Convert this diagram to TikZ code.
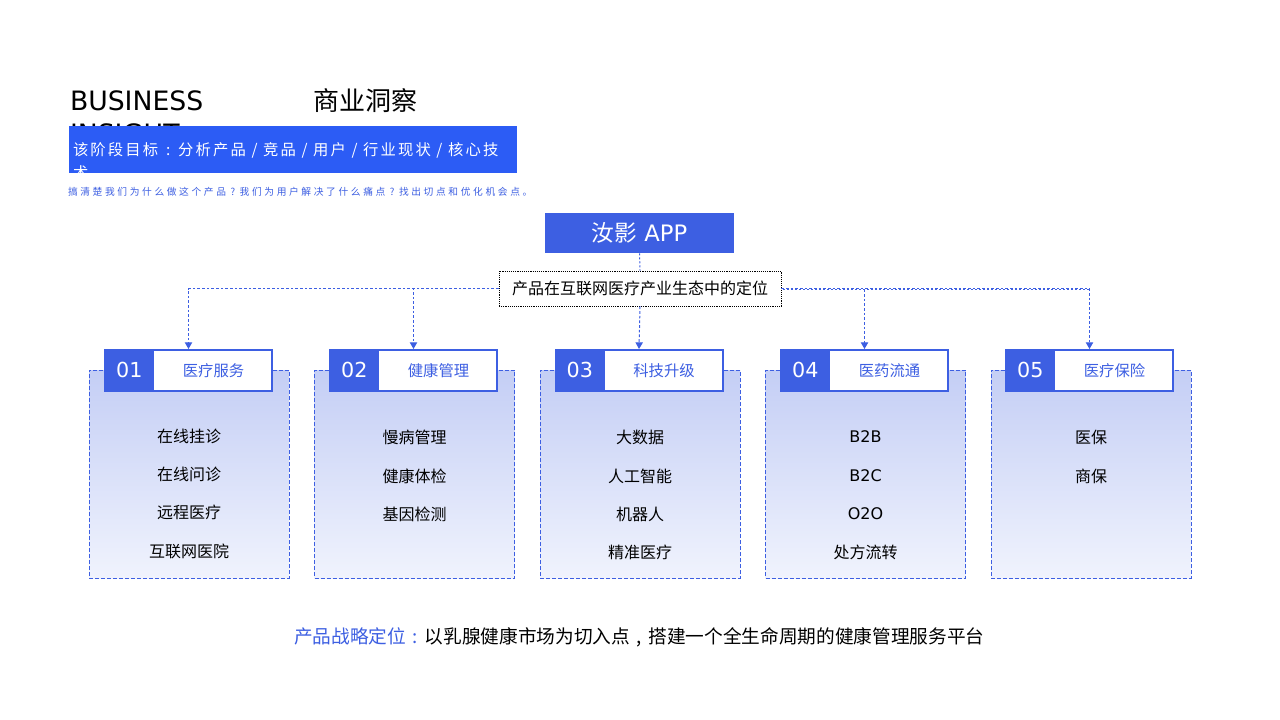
\documentclass[tikz,border=0pt]{standalone}
\usepackage{fontspec}
\setmainfont{DejaVu Sans}
\newfontfamily\cjk{Noto Sans CJK SC}
\newfontfamily\cjkbar{Noto Sans CJK SC}[LetterSpace=14]
\newfontfamily\cjksub{Noto Sans CJK SC}[LetterSpace=27]
% full-width cell with the mark centred in it
\newcommand\cmark[2][1em]{\makebox[#1][c]{#2}}
\usetikzlibrary{arrows.meta}

\definecolor{barblue}{HTML}{2C5CF5}
\definecolor{mainblue}{HTML}{3D5FE2}
\definecolor{boxtop}{HTML}{C4CEF5}
\definecolor{boxbot}{HTML}{F0F3FD}

\tikzset{
  txt/.style={inner sep=0pt, outer sep=0pt},
  appbox/.style={fill=mainblue, draw=none, minimum width=141.75pt, minimum height=30pt,
    inner sep=0pt, text=white, font=\fontsize{17}{20}\selectfont},
  labelbox/.style={draw=black, fill=white, line width=0.7pt, dash pattern=on 0.7pt off 0.7pt,
    minimum width=211.5pt, minimum height=26.25pt, inner sep=0pt, font=\fontsize{12}{14}\selectfont\cjk},
  catbox/.style={draw=mainblue, line width=0.75pt, dash pattern=on 3pt off 1.5pt,
    top color=boxtop, bottom color=boxbot, minimum width=150pt, minimum height=156pt, inner sep=0pt},
  headbox/.style={draw=mainblue, fill=white, line width=1.5pt, minimum width=125.25pt,
    minimum height=30.75pt, inner sep=0pt},
  numbox/.style={fill=mainblue, draw=none, minimum width=37.5pt, minimum height=30.75pt,
    inner sep=0pt, text=white, font=\fontsize{15.5}{18}\selectfont},
  headtxt/.style={txt, text=mainblue, font=\fontsize{11.5}{14}\selectfont\cjk},
  itemtxt/.style={txt, text=black, font=\fontsize{12}{14}\selectfont\cjk},
  itemlat/.style={txt, text=black, font=\fontsize{12}{14}\selectfont},
  link/.style={draw=mainblue, line width=0.75pt, dash pattern=on 2pt off 1.5pt,
    -{Triangle[width=5.5pt,length=5pt]}},
  plainlink/.style={draw=mainblue, line width=0.75pt, dash pattern=on 1.5pt off 1.5pt},
}

\begin{document}
\begin{tikzpicture}[x=0.75pt, y=-0.75pt]
\useasboundingbox (0,0) rectangle (1280,720);
\fill[white] (0,0) rectangle (1280,720);

% title block
\node[txt, anchor=base west, font=\fontsize{20}{24}\selectfont] (t1) at (70,111) {BUSINESS};
\node[txt, anchor=base west, font=\fontsize{20}{24}\selectfont] (t2) at (70,144) {INSIGHT};
\node[txt, anchor=base west, font=\fontsize{19.5}{24}\selectfont\cjk] (t3) at (313,111) {商业洞察};

% goal bar (second line cut off by the bar edge)
\fill[barblue] (69,126) rectangle (517,173);
\begin{scope}
  \clip (69,126) rectangle (517,173);
  \node[txt, anchor=base west, text=white, font=\fontsize{11.5}{14}\selectfont\cjkbar] (g1) at (73,156)
    {该阶段目标\cmark[1.3em]{:}分析产品 / 竞品 / 用户 / 行业现状 / 核心技};
  \node[txt, anchor=base west, text=white, font=\fontsize{11.5}{14}\selectfont\cjkbar] (g2) at (73,179)
    {术。};
\end{scope}
\node[txt, anchor=base west, text=mainblue, font=\fontsize{7.3}{9}\selectfont\cjksub] (sub) at (68,195.5)
  {搞清楚我们为什么做这个产品\cmark[1.4em]{?}我们为用户解决了什么痛点\cmark[1.4em]{?}找出切点和优化机会点。};

% root and positioning label
\node[appbox] (app) at (639.5,233) {{\cjk 汝影} APP};

% category boxes
\foreach \i/\x in {1/189,2/414.5,3/640,4/865.5,5/1091}{
  \node[catbox] (b\i) at (\x,474) {};
}

\draw[plainlink] (499,289) -- (1090,289);

\foreach \i/\x in {1/188.5,2/413.5,3/639,4/864.5,5/1089.5}{
  \node[headbox] (h\i) at (\x,370.5) {};
  \node[numbox, anchor=north west] (n\i) at (h\i.north west) {};
}

\node[labelbox] (lbl) at (640,288.5) {产品在互联网医疗产业生态中的定位};
\draw[plainlink] (app.south) -- (lbl.north);

\draw[link] (lbl.west) -| (h1.north);
\draw[link] (lbl.west) -| (h2.north);
\draw[link] (lbl.south) -- (h3.north);
\draw[link] (lbl.east) -| (h4.north);
\draw[link] (lbl.east) -| (h5.north);

% header texts
\foreach \i/\num/\name in {1/01/医疗服务,2/02/健康管理,3/03/科技升级,4/04/医药流通,5/05/医疗保险}{
  \node[txt, text=white, font=\fontsize{15.5}{18}\selectfont] (nt\i) at (n\i.center) {\num};
  \node[headtxt] (ht\i) at ([xshift=18.75pt]h\i.center) {\name};
}

% items
\node[itemtxt] (i11) at (189,436) {在线挂诊};
\node[itemtxt] (i12) at (189,474) {在线问诊};
\node[itemtxt] (i13) at (189,512) {远程医疗};
\node[itemtxt] (i14) at (189,551) {互联网医院};

\node[itemtxt] (i21) at (414.5,437) {慢病管理};
\node[itemtxt] (i22) at (414.5,476) {健康体检};
\node[itemtxt] (i23) at (414.5,514) {基因检测};

\node[itemtxt] (i31) at (640,437) {大数据};
\node[itemtxt] (i32) at (640,476) {人工智能};
\node[itemtxt] (i33) at (640,514) {机器人};
\node[itemtxt] (i34) at (640,552) {精准医疗};

\node[itemlat] (i41) at (865.5,437) {B2B};
\node[itemlat] (i42) at (865.5,476) {B2C};
\node[itemlat] (i43) at (865.5,514) {O2O};
\node[itemtxt] (i44) at (865.5,552) {处方流转};

\node[itemtxt] (i51) at (1091,437) {医保};
\node[itemtxt] (i52) at (1091,476) {商保};

% strategy line
\node[txt, anchor=base west, font=\fontsize{14}{17}\selectfont\cjk] (strat) at (294,643)
  {\textcolor{mainblue}{产品战略定位\cmark{:}}以乳腺健康市场为切入点\cmark{,}搭建一个全生命周期的健康管理服务平台};
\end{tikzpicture}
\end{document}
